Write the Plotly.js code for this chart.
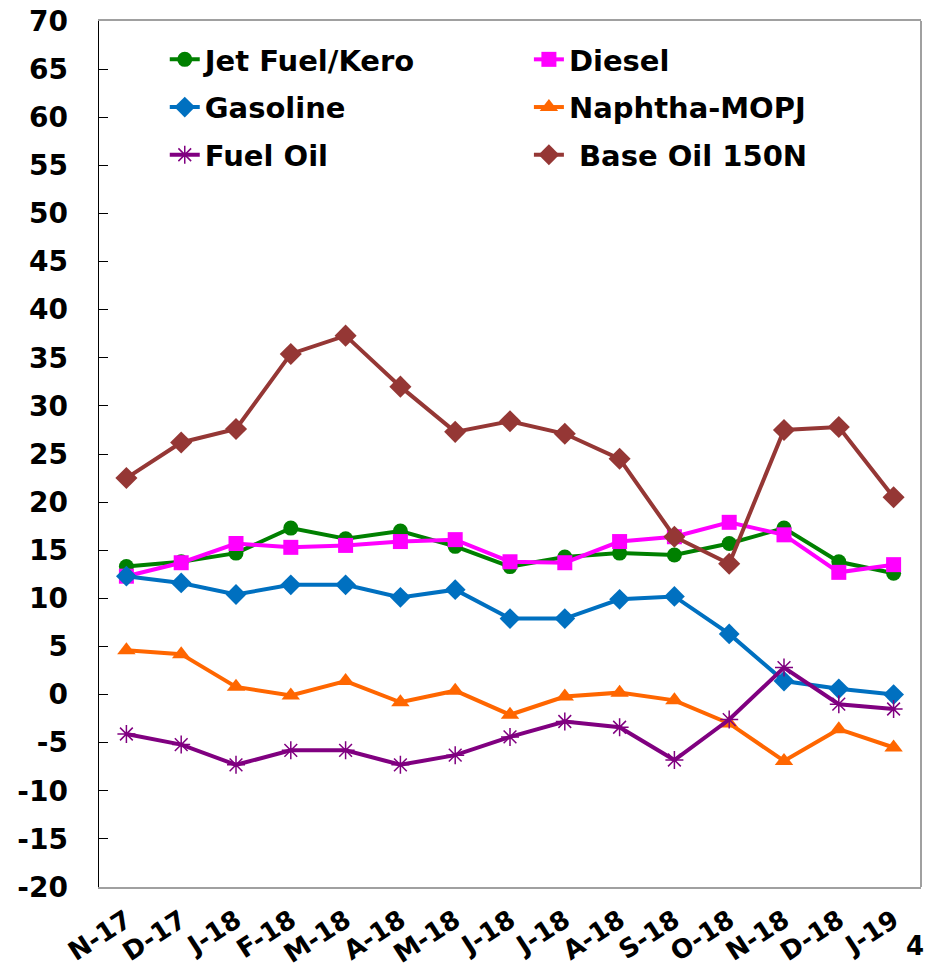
<!DOCTYPE html>
<html>
<head>
<meta charset="utf-8">
<script src="https://cdn.plot.ly/plotly-3.0.1.min.js"></script>
<style>
html,body{margin:0;padding:0;background:#fff;}
#chart{width:926px;height:970px;}
</style>
</head>
<body>
<div id="chart"></div>
<script>
const months = ["Nov-17","Dec-17","Jan-18","Feb-18","Mar-18","Apr-18","May-18","Jun-18","Jul-18","Aug-18","Sep-18","Oct-18","Nov-18","Dec-18","Jan-19"];
const tickLabels = ["N-17","D-17","J-18","F-18","M-18","A-18","M-18","J-18","J-18","A-18","S-18","O-18","N-18","D-18","J-19"];

const jetFuel  = [13.3, 13.8, 14.7, 17.3, 16.2, 17.0, 15.4, 13.3, 14.3, 14.7, 14.5, 15.7, 17.3, 13.8, 12.6];
const diesel   = [12.3, 13.7, 15.7, 15.3, 15.5, 15.9, 16.1, 13.8, 13.7, 15.9, 16.4, 17.9, 16.6, 12.7, 13.5];
const gasoline = [12.3, 11.6, 10.4, 11.4, 11.4, 10.1, 10.9, 7.9, 7.9, 9.9, 10.2, 6.3, 1.4, 0.6, 0.0];
const naphtha  = [4.6, 4.2, 0.8, -0.1, 1.4, -0.8, 0.4, -2.1, -0.2, 0.2, -0.6, -3.0, -6.9, -3.6, -5.5];
const fuelOil  = [-4.1, -5.2, -7.3, -5.8, -5.8, -7.3, -6.3, -4.4, -2.8, -3.4, -6.8, -2.6, 2.8, -1.0, -1.5];
const baseOil  = [22.5, 26.2, 27.6, 35.4, 37.3, 32.0, 27.3, 28.4, 27.1, 24.5, 16.4, 13.6, 27.5, 27.8, 20.5];

const yTicks = [-20,-15,-10,-5,0,5,10,15,20,25,30,35,40,45,50,55,60,65,70];

const FONT = "DejaVu Sans, Verdana, sans-serif";

function series(name, data, color, symbol, size, legendId, extra) {
  return {
    type: "scatter", mode: "lines+markers", name: name,
    x: months, y: data,
    legend: legendId, legendgroup: name,
    line: {color: color, width: 4},
    marker: Object.assign({color: color, symbol: symbol, size: size}, extra || {})
  };
}

const traces = [
  series("Jet Fuel/Kero", jetFuel, "#008000", "circle", 15, "legend"),
  series("Diesel", diesel, "#FF00FF", "square", 15, "legend2"),
  series("Gasoline", gasoline, "#0070C0", "diamond", 16, "legend"),
  series("Naphtha-MOPJ", naphtha, "#FF6600", "triangle-up", 16, "legend2"),
  series("Fuel Oil", fuelOil, "#800080", "asterisk-open", 15, "legend", {line: {color: "#800080", width: 1.5}}),
  series(" Base Oil 150N", baseOil, "#953735", "diamond", 17, "legend2")
];

const legendFont = {family: FONT, size: 29, color: "#000", weight: "bold"};
const legendCommon = {
  orientation: "v", yanchor: "top", xanchor: "left",
  traceorder: "grouped", tracegroupgap: 7,
  bgcolor: "rgba(0,0,0,0)", font: legendFont
};

const layout = {
  width: 926, height: 970,
  margin: {l: 99, r: 5, t: 21, b: 83},
  paper_bgcolor: "#ffffff", plot_bgcolor: "#ffffff",
  showlegend: true,
  legend: Object.assign({x: 0.080, y: 0.985}, legendCommon),
  legend2: Object.assign({x: 0.523, y: 0.985}, legendCommon),
  xaxis: {
    type: "category",
    categoryorder: "array", categoryarray: months,
    range: [-0.5, months.length - 0.5],
    tickmode: "array", tickvals: months, ticktext: tickLabels,
    tickangle: -33,
    tickfont: {family: FONT, size: 26, color: "#000", weight: "bold"},
    ticks: "", ticklabelstandoff: 6,
    showline: true, linecolor: "#A0A0A0", linewidth: 2, mirror: true,
    showgrid: false, zeroline: false, fixedrange: true
  },
  xaxis2: {
    type: "linear", overlaying: "x", anchor: "free",
    position: (0 - yTicks[0]) / (yTicks[yTicks.length - 1] - yTicks[0]),
    range: [-0.5, months.length - 0.5],
    tickmode: "array",
    tickvals: months.map((m, i) => i - 0.5).concat([months.length - 0.5]),
    ticks: "inside", ticklen: 10, tickwidth: 1, tickcolor: "#000",
    showticklabels: false,
    showline: true, linecolor: "#000", linewidth: 1,
    showgrid: false, zeroline: false, fixedrange: true
  },
  yaxis: {
    range: [yTicks[0], yTicks[yTicks.length - 1]],
    tickmode: "array", tickvals: yTicks, ticktext: yTicks.map(v => String(v)),
    tickfont: {family: FONT, size: 28, color: "#000", weight: "bold"},
    ticks: "inside", ticklen: 9, tickwidth: 1, tickcolor: "#000",
    ticklabelstandoff: 24,
    showline: true, linecolor: "#000", linewidth: 1.5,
    showgrid: false, zeroline: false, fixedrange: true
  },
  shapes: [
    {type: "line", xref: "paper", yref: "paper", x0: 1, x1: 1, y0: 0, y1: 1,
     line: {color: "#A0A0A0", width: 2}}
  ],
  annotations: [
    {text: "4", xref: "paper", yref: "paper", x: 1.006, y: -0.068, xanchor: "right", yanchor: "middle",
     showarrow: false, font: {family: FONT, size: 26, color: "#000", weight: "bold"}}
  ]
};

Plotly.newPlot("chart", traces, layout, {displayModeBar: false, staticPlot: true});
</script>
</body>
</html>
